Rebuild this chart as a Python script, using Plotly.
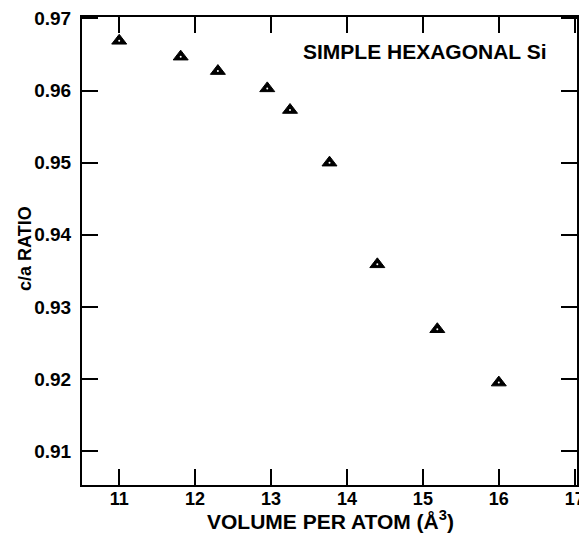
import plotly.graph_objects as go

volume = [11.0, 11.81, 12.30, 12.95, 13.25, 13.77, 14.40, 15.19, 16.00]
ca_ratio = [0.9669, 0.9647, 0.9627, 0.9603, 0.9573, 0.9500, 0.9359, 0.9269, 0.9195]
x_ticks = [11, 12, 13, 14, 15, 16, 17]
y_ticks = [0.91, 0.92, 0.93, 0.94, 0.95, 0.96, 0.97]

FONT = "Liberation Sans, Arial, sans-serif"

fig = go.Figure()
fig.add_trace(go.Scatter(
    x=volume, y=ca_ratio, mode="markers",
    marker=dict(symbol="triangle-up", size=13, color="black",
                line=dict(color="black", width=1)),
    showlegend=False,
))
fig.add_trace(go.Scatter(
    x=volume, y=ca_ratio, mode="markers",
    marker=dict(symbol="circle", size=2, color="white", line=dict(width=0)),
    showlegend=False, hoverinfo="skip",
))

axis_common = dict(
    showgrid=False, zeroline=False, showline=True, linecolor="black",
    linewidth=2, mirror="allticks", ticks="inside", ticklen=16,
    tickwidth=1.5, tickcolor="black", automargin=False,
)

fig.update_layout(
    width=579, height=525,
    margin=dict(l=74, r=10, t=9, b=48),
    paper_bgcolor="white", plot_bgcolor="white",
    xaxis=dict(range=[10.51, 17.03], tickvals=x_ticks,
               ticktext=[str(v) for v in x_ticks], ticklabelstandoff=-4,
               tickfont=dict(family=FONT, size=18, color="black", weight="bold"),
               **axis_common),
    yaxis=dict(range=[0.9053, 0.9702], tickvals=y_ticks,
               ticktext=[f"{v:.2f}" for v in y_ticks], ticklabelstandoff=5,
               tickfont=dict(family=FONT, size=19, color="black", weight="bold"),
               **axis_common),
    annotations=[
        dict(text="SIMPLE HEXAGONAL Si", xref="paper", yref="paper",
             x=0.9414, y=0.927, xanchor="right", yanchor="middle", showarrow=False,
             font=dict(family=FONT, size=21, color="black", weight="bold")),
        dict(text="VOLUME PER ATOM (Å<sup>3</sup>)", xref="paper", yref="paper",
             x=(322 - 74) / 495, y=(477 - 512) / 468, xanchor="center", yanchor="middle",
             showarrow=False,
             font=dict(family=FONT, size=21, color="black", weight="bold")),
        dict(text="c/a RATIO", xref="paper", yref="paper", textangle=-90,
             x=(17 - 74) / 495, y=(477 - 241) / 468, xanchor="center", yanchor="middle",
             showarrow=False,
             font=dict(family=FONT, size=18, color="black", weight="bold")),
    ],
)

fig.write_html("out.html")
